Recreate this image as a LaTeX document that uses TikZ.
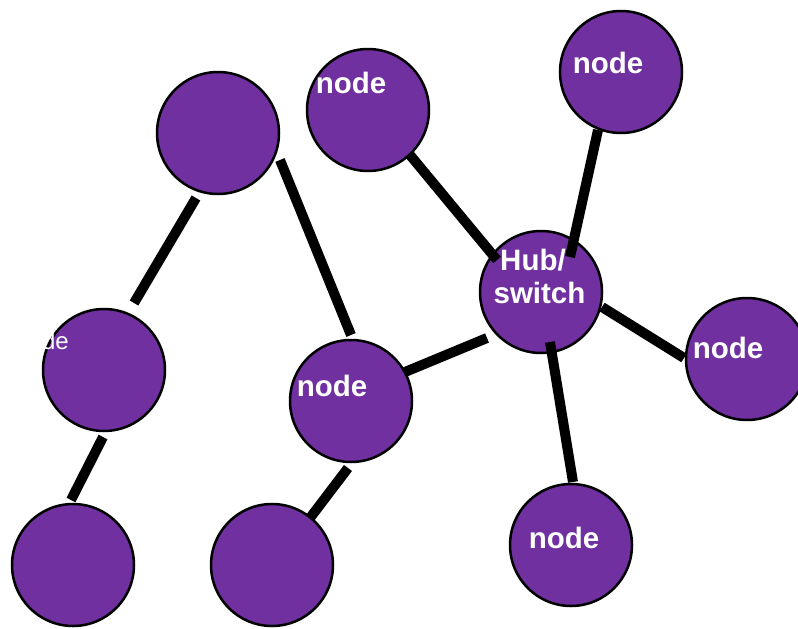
\documentclass[tikz,border=0pt]{standalone}
\usepackage{fontspec}
\setmainfont{Liberation Sans}
\definecolor{netpurple}{HTML}{7030A0}
\begin{document}
\begin{tikzpicture}[x=1pt,y=-1pt,
  netnode/.style={circle,draw=black,line width=2.5pt,fill=netpurple,minimum size=122pt,inner sep=0pt},
  link/.style={line width=10pt,line cap=butt},
  lbl/.style={text=white,font=\fontsize{29.5}{33}\selectfont\bfseries,anchor=base,inner sep=0pt},
  faint/.style={text=white,font=\fontsize{24}{28}\selectfont,anchor=base east,inner sep=0pt}]
\useasboundingbox (0,0) rectangle (798,629);
\clip (0,0) rectangle (798,629);
% circles
\node[netnode] (T1) at (218,133) {};
\node[netnode] (L) at (104,370) {};
\node[netnode] (BL) at (73,565) {};
\node[netnode] (BM) at (272,565) {};
\node[netnode] (M) at (351,401) {};
\node[netnode] (Hub) at (541,292) {};
\node[netnode] (N1) at (368,110) {};
\node[netnode] (N2) at (621,72) {};
\node[netnode] (N3) at (747,359) {};
\node[netnode] (N4) at (571,545) {};
% connector end points
\coordinate (T1a) at (196,198); \coordinate (La) at (134,303);
\coordinate (T1b) at (280,160); \coordinate (Mb) at (351,335);
\coordinate (Lc) at (103,437); \coordinate (BLc) at (71,500);
\coordinate (Md) at (348,468); \coordinate (BMd) at (310,518);
\coordinate (Me) at (405,372); \coordinate (Hube) at (487,338);
\coordinate (N1f) at (410,155); \coordinate (Hubf) at (497,260);
\coordinate (N2g) at (598,130); \coordinate (Hubg) at (570,257);
\coordinate (Hubh) at (602,307); \coordinate (N3h) at (684,358);
\coordinate (Hubi) at (550,342); \coordinate (N4i) at (573,482);
% connectors
\draw[link] (T1a) -- (La);
\draw[link] (T1b) -- (Mb);
\draw[link] (Lc) -- (BLc);
\draw[link] (Md) -- (BMd);
\draw[link] (Me) -- (Hube);
\draw[link] (N1f) -- (Hubf);
\draw[link] (N2g) -- (Hubg);
\draw[link] (Hubh) -- (N3h);
\draw[link] (Hubi) -- (N4i);
% labels
\node[lbl] (N1t) at (351,93) {node};
\node[lbl] (N2t) at (608,73) {node};
\node[lbl] (N3t) at (728,358) {node};
\node[lbl] (Mt) at (332,396) {node};
\node[lbl] (N4t) at (564,548) {node};
\node[lbl] (Hubt1) at (533,270) {Hub/};
\node[lbl] (Hubt2) at (539.5,303) {switch};
\node[faint] (Lt) at (69,349) {node};
\end{tikzpicture}
\end{document}
